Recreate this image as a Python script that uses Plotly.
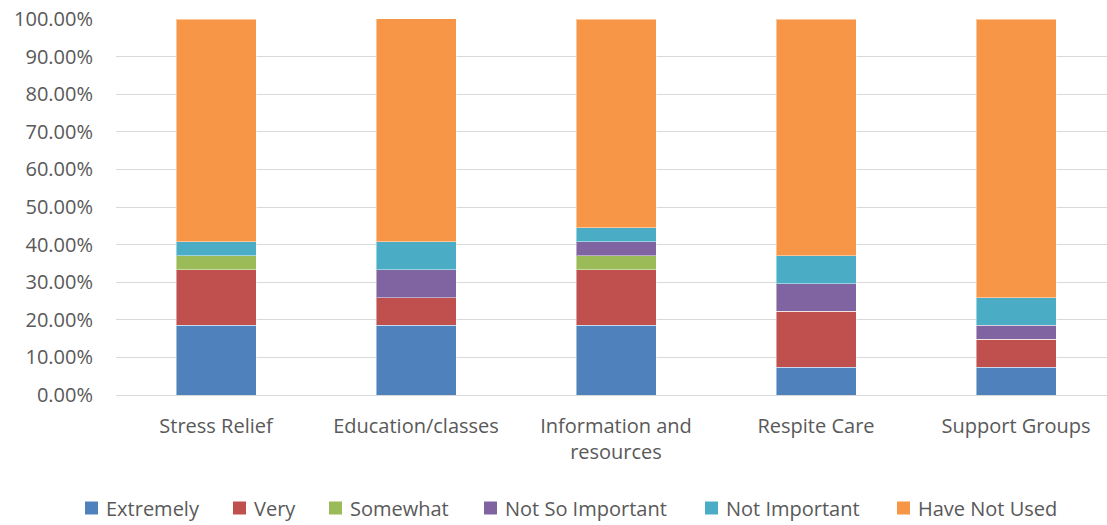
import plotly.graph_objects as go

categories = ["Stress Relief", "Education/classes", "Information and<br>resources",
              "Respite Care", "Support Groups"]

extremely = [18.52, 18.52, 18.52, 7.41, 7.41]
very = [14.81, 7.41, 14.81, 14.81, 7.41]
somewhat = [3.70, 0.00, 3.70, 0.00, 0.00]
not_so_important = [0.00, 7.41, 3.70, 7.41, 3.70]
not_important = [3.70, 7.41, 3.70, 7.41, 7.41]
have_not_used = [59.26, 59.26, 55.56, 62.96, 74.07]

series = [
    ("Extremely", extremely, "#4F81BD"),
    ("Very", very, "#C0504D"),
    ("Somewhat", somewhat, "#9BBB59"),
    ("Not So Important", not_so_important, "#8064A2"),
    ("Not Important", not_important, "#4BACC6"),
    ("Have Not Used", have_not_used, "#F79646"),
]

tick_vals = [0, 10, 20, 30, 40, 50, 60, 70, 80, 90, 100]
tick_text = [f"{v:.2f}%" for v in tick_vals]

FONT = "Open Sans, Liberation Sans, Arial, sans-serif"
TEXT = "#595959"

W, H = 1107, 525
ML, MR, MT, MB = 116, 0, 19, 130
plot_w = W - ML - MR
plot_h = H - MT - MB

fig = go.Figure()
for name, vals, color in series:
    fig.add_trace(go.Bar(
        x=list(range(len(categories))), y=vals, name=name, width=0.4,
        marker=dict(color=color, line=dict(color="rgba(255,255,255,0.45)", width=1)),
        showlegend=False,
    ))

# Legend row drawn below the plot: a colour key square followed by the series name
legend_left_px = [85, 233, 329, 484, 705, 897]
legend_mid_px = 508
key = 13
for (name, _, color), lx in zip(series, legend_left_px):
    x0 = (lx - ML) / plot_w
    x1 = (lx + key - ML) / plot_w
    y0 = (H - MB - (legend_mid_px + key / 2)) / plot_h
    y1 = (H - MB - (legend_mid_px - key / 2)) / plot_h
    fig.add_shape(type="rect", xref="paper", yref="paper", x0=x0, x1=x1, y0=y0, y1=y1,
                  fillcolor=color, line=dict(width=0))
    fig.add_annotation(xref="paper", yref="paper", x=(lx + key + 6 - ML) / plot_w,
                       y=(H - MB - legend_mid_px) / plot_h, text=name, showarrow=False,
                       xanchor="left", yanchor="middle",
                       font=dict(family=FONT, size=20, color=TEXT))

fig.update_layout(
    barmode="stack",
    width=W, height=H,
    margin=dict(l=ML, r=MR, t=MT, b=MB),
    paper_bgcolor="white", plot_bgcolor="white",
    font=dict(family=FONT, size=20, color=TEXT),
    xaxis=dict(
        tickmode="array", tickvals=list(range(len(categories))), ticktext=categories,
        range=[-0.5, 4.455], showgrid=False, zeroline=False,
        showline=True, linecolor="#D9D9D9", linewidth=1,
        ticks="", ticklabelstandoff=13, tickfont=dict(size=20, color=TEXT),
    ),
    yaxis=dict(
        range=[0, 100], tickmode="array", tickvals=tick_vals, ticktext=tick_text,
        showgrid=True, gridcolor="#D9D9D9", gridwidth=1, zeroline=False,
        showline=False, ticks="", ticklabelstandoff=22,
        tickfont=dict(size=20, color=TEXT),
    ),
    showlegend=False,
)

fig.write_html("out.html")
